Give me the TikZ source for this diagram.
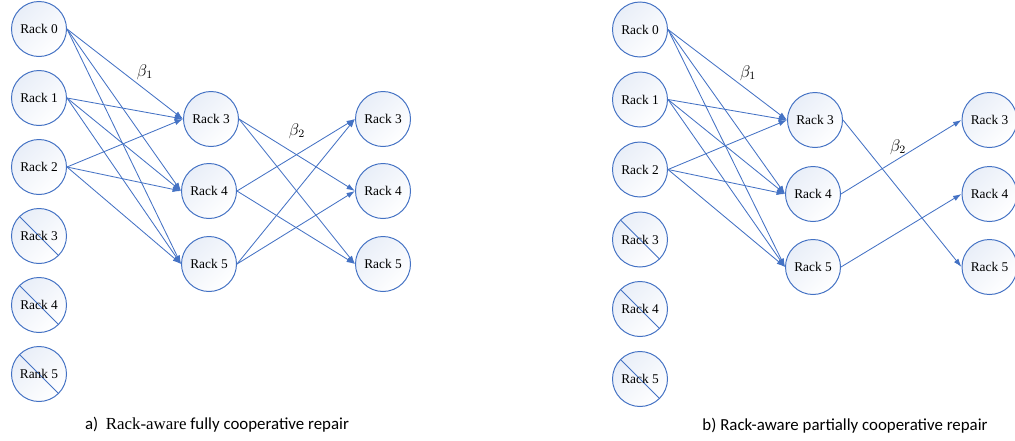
\documentclass[tikz,border=0pt]{standalone}
\usepackage{fontspec}
\setmainfont{Liberation Serif}
\newfontfamily\capfont{Carlito}
\usetikzlibrary{arrows.meta}
\definecolor{rackblue}{RGB}{68,114,196}
\tikzset{>={Latex[length=6pt,width=4pt]}}
\tikzset{
  rack/.style={draw=rackblue,line width=0.7pt,circle,minimum size=1.375cm,inner sep=0pt,
    top color=rackblue!12!white,bottom color=white,shading angle=45,
    font=\fontsize{9.5}{11}\selectfont},
  lostrack/.style={rack,path picture={\draw[rackblue,line width=0.7pt]
    (path picture bounding box.north west) -- (path picture bounding box.south east);}},
  flow/.style={->,draw=rackblue,line width=0.6pt},
  weight/.style={font=\fontsize{11.5}{13}\selectfont},
  captext/.style={font=\capfont\fontsize{12}{14}\selectfont}
}

\begin{document}
\begin{tikzpicture}[x=0.025cm,y=-0.025cm]
\useasboundingbox (0,0) rectangle (1015,441);
\node[rack] (a0) at (39,29) {Rack 0};
\node[rack] (a1) at (39,98) {Rack 1};
\node[rack] (a2) at (39,167) {Rack 2};
\node[lostrack] (a3) at (39,236) {Rack 3};
\node[lostrack] (a4) at (39,305) {Rack 4};
\node[lostrack] (a5) at (39,374) {Rank 5};
\node[rack] (am3) at (211,119) {Rack 3};
\node[rack] (am4) at (209,191) {Rack 4};
\node[rack] (am5) at (209,264) {Rack 5};
\node[rack] (ar3) at (383,119) {Rack 3};
\node[rack] (ar4) at (383,191) {Rack 4};
\node[rack] (ar5) at (383,264) {Rack 5};
\foreach \s in {a0,a1,a2}
  \foreach \t in {am3,am4,am5}
    \draw[flow] (\s.east) -- (\t.west);
\draw[flow] (am3.east) -- (ar4.west);
\draw[flow] (am3.east) -- (ar5.west);
\draw[flow] (am4.east) -- (ar3.west);
\draw[flow] (am4.east) -- (ar5.west);
\draw[flow] (am5.east) -- (ar3.west);
\draw[flow] (am5.east) -- (ar4.west);
\node[weight] (abeta1) at (145,72) {$\beta_1$};
\node[weight] (abeta2) at (297,131) {$\beta_2$};
\node[captext] (acap) at (217,425) {a)\ \ {\rmfamily Rack-aware} fully cooperative repair};

\node[rack] (b0) at (640,29.5) {Rack 0};
\node[rack] (b1) at (640,99.5) {Rack 1};
\node[rack] (b2) at (640,169.5) {Rack 2};
\node[lostrack] (b3) at (640,239.5) {Rack 3};
\node[lostrack] (b4) at (640,309) {Rack 4};
\node[lostrack] (b5) at (640,379) {Rack 5};
\node[rack] (bm3) at (815,120) {Rack 3};
\node[rack] (bm4) at (813,194) {Rack 4};
\node[rack] (bm5) at (813,267) {Rack 5};
\node[rack] (br3) at (989.5,120) {Rack 3};
\node[rack] (br4) at (989.5,194) {Rack 4};
\node[rack] (br5) at (989.5,267) {Rack 5};
\foreach \s in {b0,b1,b2}
  \foreach \t in {bm3,bm4,bm5}
    \draw[flow] (\s.east) -- (\t.west);
\draw[flow] (bm3.east) -- (br5.west);
\draw[flow] (bm4.east) -- (br3.west);
\draw[flow] (bm5.east) -- (br4.west);
\node[weight] (bbeta1) at (748,73) {$\beta_1$};
\node[weight] (bbeta2) at (898,147) {$\beta_2$};
\node[captext] (bcap) at (845,426) {b) Rack-aware partially cooperative repair};
\end{tikzpicture}
\end{document}
